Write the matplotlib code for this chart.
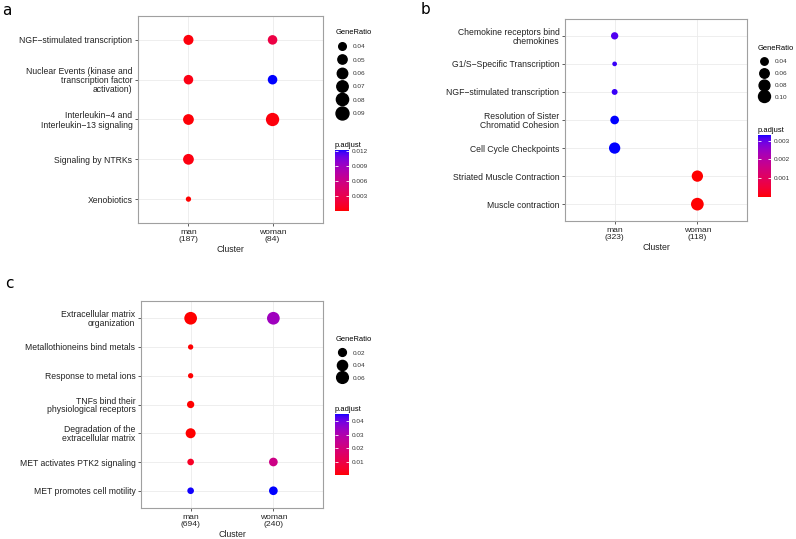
import numpy as np
import matplotlib.pyplot as plt
from matplotlib.colors import ListedColormap, Normalize
from matplotlib.lines import Line2D
import matplotlib.cm as cm

plt.rcParams['font.family'] = ['Liberation Sans', 'DejaVu Sans']

W, H = 796, 539
MINUS = '\u2212'

# ---- panel a ----
a_terms = ['NGF' + MINUS + 'stimulated transcription',
           'Nuclear Events (kinase and\ntranscription factor\nactivation)',
           'Interleukin' + MINUS + '4 and\nInterleukin' + MINUS + '13 signaling',
           'Signaling by NTRKs',
           'Xenobiotics']
a_clusters = ['man\n(187)', 'woman\n(84)']
a_term_idx = [0, 0, 1, 1, 2, 2, 3, 4]
a_cluster_idx = [0, 1, 0, 1, 0, 1, 0, 0]
a_ratio = [0.056, 0.052, 0.052, 0.052, 0.063, 0.095, 0.063, 0.035]
a_padj = [0.0003, 0.0025, 0.0005, 0.0122, 0.0002, 0.0003, 0.0004, 0.00003]
a_size_breaks = [0.04, 0.05, 0.06, 0.07, 0.08, 0.09]
a_color_breaks = [0.003, 0.006, 0.009, 0.012]

# ---- panel b ----
b_terms = ['Chemokine receptors bind\nchemokines',
           'G1/S' + MINUS + 'Specific Transcription',
           'NGF' + MINUS + 'stimulated transcription',
           'Resolution of Sister\nChromatid Cohesion',
           'Cell Cycle Checkpoints',
           'Striated Muscle Contraction',
           'Muscle contraction']
b_clusters = ['man\n(323)', 'woman\n(118)']
b_term_idx = [0, 1, 2, 3, 4, 5, 6]
b_cluster_idx = [0, 0, 0, 0, 0, 1, 1]
b_ratio = [0.039, 0.030, 0.032, 0.051, 0.088, 0.088, 0.115]
b_padj = [0.0031, 0.0032, 0.0032, 0.0033, 0.0033, 0.000002, 0.000001]
b_size_breaks = [0.04, 0.06, 0.08, 0.10]
b_color_breaks = [0.001, 0.002, 0.003]

# ---- panel c ----
c_terms = ['Extracellular matrix\norganization',
           'Metallothioneins bind metals',
           'Response to metal ions',
           'TNFs bind their\nphysiological receptors',
           'Degradation of the\nextracellular matrix',
           'MET activates PTK2 signaling',
           'MET promotes cell motility']
c_clusters = ['man\n(694)', 'woman\n(240)']
c_term_idx = [0, 0, 1, 2, 3, 4, 5, 5, 6, 6]
c_cluster_idx = [0, 1, 0, 0, 0, 0, 0, 1, 0, 1]
c_ratio = [0.075, 0.075, 0.013, 0.013, 0.0175, 0.038, 0.015, 0.026, 0.015, 0.026]
c_padj = [0.0002, 0.033, 0.0003, 0.0003, 0.0002, 0.0001, 0.004, 0.022, 0.045, 0.0453]
c_size_breaks = [0.02, 0.04, 0.06]
c_color_breaks = [0.01, 0.02, 0.03, 0.04]


# red -> blue gradient interpolated in Lab, like ggplot's scale_colour_gradient
_M = np.array([[0.4124, 0.3576, 0.1805],
               [0.2126, 0.7152, 0.0722],
               [0.0193, 0.1192, 0.9505]])
_WP = np.array([0.95047, 1.0, 1.08883])


def to_lab(rgb):
    rgb = np.asarray(rgb, float)
    lin = np.where(rgb <= 0.04045, rgb / 12.92, ((rgb + 0.055) / 1.055) ** 2.4)
    xyz = lin @ _M.T / _WP
    f = np.where(xyz > 0.008856, np.cbrt(xyz), 7.787 * xyz + 16 / 116)
    return np.stack([116 * f[..., 1] - 16, 500 * (f[..., 0] - f[..., 1]),
                     200 * (f[..., 1] - f[..., 2])], -1)


def to_rgb(lab):
    fy = (lab[..., 0] + 16) / 116
    f = np.stack([fy + lab[..., 1] / 500, fy, fy - lab[..., 2] / 200], -1)
    xyz = np.where(f ** 3 > 0.008856, f ** 3, (f - 16 / 116) / 7.787) * _WP
    lin = np.clip(xyz @ np.linalg.inv(_M).T, 0, 1)
    rgb = np.where(lin <= 0.0031308, 12.92 * lin, 1.055 * lin ** (1 / 2.4) - 0.055)
    return np.clip(rgb, 0, 1)


t = np.linspace(0, 1, 256)[:, None]
lab = to_lab([1, 0, 0]) * (1 - t) + to_lab([0, 0, 1]) * t
cmap = ListedColormap(to_rgb(lab))


def diam(x, lo, hi, dmin, dmax):
    # ggplot area palette, result in pixels
    x = np.asarray(x, float)
    return dmin + (dmax - dmin) * np.sqrt(np.clip((x - lo) / (hi - lo), 0, 1))


def px_rect(x0, y0, x1, y1):
    return [x0 / W, 1 - y1 / H, (x1 - x0) / W, (y1 - y0) / H]


fig = plt.figure(figsize=(W / 100, H / 100), dpi=100)


def panel(terms, clusters, term_idx, cluster_idx, ratio, padj, size_breaks,
          color_breaks, box, dlim, leg_xy, leg_spacing, cbar_box):
    ax = fig.add_axes(px_rect(*box))
    n = len(terms)
    lo, hi = min(ratio), max(ratio)
    d = diam(ratio, lo, hi, *dlim)
    norm = Normalize(min(padj), max(padj))
    xs = np.array(cluster_idx) + 1
    ys = n - np.array(term_idx)
    ax.scatter(xs, ys, s=(d * 0.72) ** 2, c=padj, cmap=cmap, norm=norm,
               edgecolors='none', zorder=3)
    ax.set_xlim(0.4, 2.6)
    ax.set_ylim(0.4, n + 0.6)
    ax.set_xticks([1, 2])
    ax.set_xticklabels(clusters, fontsize=6.1, color='#222222')
    ax.set_yticks(np.arange(n, 0, -1))
    ax.set_yticklabels(terms, fontsize=6.2, color='#222222')
    for lab_ in ax.get_yticklabels():
        lab_.set_linespacing(1.0)
    for lab_ in ax.get_xticklabels():
        lab_.set_linespacing(1.1)
    ax.tick_params(length=2.5, width=0.6, color='#444444', pad=1.5)
    ax.grid(True, color='#EBEBEB', lw=0.6)
    ax.set_axisbelow(True)
    for sp in ax.spines.values():
        sp.set_color('#A0A0A0')
        sp.set_linewidth(0.8)
    ax.set_xlabel('Cluster', fontsize=6.3, color='#222222', labelpad=1.5)

    handles = [Line2D([], [], marker='o', ls='none', color='black',
                      markersize=float(diam(v, lo, hi, *dlim)) * 0.72)
               for v in size_breaks]
    leg = ax.legend(handles, [f'{v:.2f}' for v in size_breaks], title='GeneRatio',
                    loc='upper left', bbox_to_anchor=(leg_xy[0] / W, 1 - leg_xy[1] / H),
                    bbox_transform=fig.transFigure, frameon=False, fontsize=4.6,
                    title_fontsize=5.4, borderpad=0, handlelength=2.0,
                    handletextpad=0.8, labelspacing=leg_spacing, alignment='left')
    for txt in leg.get_texts():
        txt.set_color('#333333')

    cax = fig.add_axes(px_rect(*cbar_box))
    cb = fig.colorbar(cm.ScalarMappable(norm=norm, cmap=cmap), cax=cax,
                      ticks=color_breaks)
    cb.outline.set_visible(False)
    cb.ax.set_yticklabels([f'{v:g}' for v in color_breaks])
    cb.ax.tick_params(direction='in', color='white', left=True, right=True,
                      length=2.5, width=0.6, labelsize=4.6, labelcolor='#333333', pad=2)
    cax.set_title('p.adjust', loc='left', fontsize=5.4, pad=2.5)
    return ax


panel(a_terms, a_clusters, a_term_idx, a_cluster_idx, a_ratio, a_padj,
      a_size_breaks, a_color_breaks, (138, 16, 323, 223), (5.3, 13.3),
      (332, 26), 1.22, (335, 150, 349, 211))
panel(b_terms, b_clusters, b_term_idx, b_cluster_idx, b_ratio, b_padj,
      b_size_breaks, b_color_breaks, (565, 19, 747, 221), (4.7, 12.7),
      (754, 42), 1.0, (758, 135, 771, 197))
panel(c_terms, c_clusters, c_term_idx, c_cluster_idx, c_ratio, c_padj,
      c_size_breaks, c_color_breaks, (141, 301, 323, 508), (5.3, 12.7),
      (332, 333), 1.1, (335, 414, 349, 475))

for letter, x, y in [('a', 2, 15), ('b', 421, 14), ('c', 5, 288)]:
    fig.text(x / W, 1 - y / H, letter, fontsize=11, family='DejaVu Sans',
             ha='left', va='baseline')

fig.savefig('out.png', dpi=100)
